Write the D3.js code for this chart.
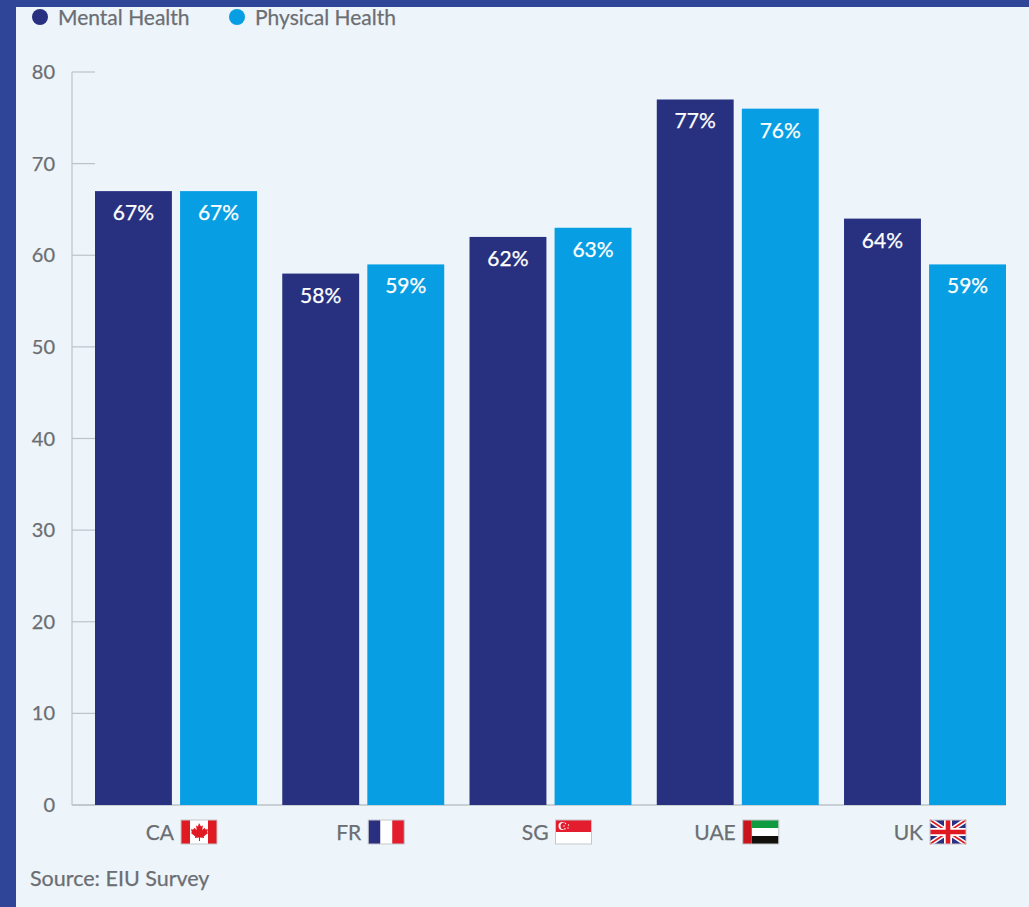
<!DOCTYPE html>
<html>
<head>
<meta charset="utf-8">
<script src="https://cdn.jsdelivr.net/npm/d3@7"></script>
<style>
  html, body { margin: 0; padding: 0; background: #2f4598; }
  svg { display: block; }
  text { font-family: Lato, "Open Sans", sans-serif; }
  .soft { stroke: currentColor; stroke-width: 0.25px; }
</style>
</head>
<body>
<div id="chart"></div>
<script>
const categories = ['CA', 'FR', 'SG', 'UAE', 'UK'];
const seriesNames = ['Mental Health', 'Physical Health'];
const mentalHealth = [67, 58, 62, 77, 64];
const physicalHealth = [67, 59, 63, 76, 59];
const yTicks = [0, 10, 20, 30, 40, 50, 60, 70, 80];
const source = 'Source: EIU Survey';

const colors = ['#283180', '#079ee3'];
const grey = '#6b6e72';
const axisGrey = '#bcc3c9';

const width = 1029, height = 907;

const svg = d3.select('#chart').append('svg')
  .attr('width', width)
  .attr('height', height);

// page frame and panel
svg.append('rect').attr('width', width).attr('height', height).attr('fill', '#2f4598');
svg.append('rect')
  .attr('x', 16).attr('y', 7)
  .attr('width', width - 16).attr('height', height - 7)
  .attr('fill', '#eef5fa');

const x0 = d3.scaleBand().domain(categories).range([95, 1006]).paddingInner(0.135).paddingOuter(0);
const x1 = d3.scaleBand().domain(seriesNames).range([0, x0.bandwidth()]).paddingInner(0.096).paddingOuter(0);
const y = d3.scaleLinear().domain([0, 80]).range([805, 72]);

// y axis: ticks run right from the domain line, labels sit left of it
const yAxis = svg.append('g').attr('transform', 'translate(72,0)');
yAxis.append('line')
  .attr('y1', y(80)).attr('y2', y(0))
  .attr('stroke', axisGrey).attr('stroke-width', 1.2);
const tick = yAxis.selectAll('g.tick').data(yTicks).join('g')
  .attr('class', 'tick')
  .attr('transform', d => 'translate(0,' + y(d) + ')');
tick.append('line')
  .attr('x2', 23)
  .attr('stroke', axisGrey).attr('stroke-width', 1.2);
tick.append('text')
  .attr('class', 'soft')
  .attr('x', -17).attr('dy', '0.35em')
  .attr('text-anchor', 'end')
  .attr('font-size', 20)
  .style('color', grey)
  .attr('fill', grey)
  .text(d => d);

// baseline
svg.append('line')
  .attr('x1', 72).attr('x2', 1006)
  .attr('y1', y(0)).attr('y2', y(0))
  .attr('stroke', axisGrey).attr('stroke-width', 1.4);

// bars
const rows = categories.map((c, i) => ({ c: c, values: [mentalHealth[i], physicalHealth[i]] }));
const group = svg.selectAll('g.group').data(rows).join('g')
  .attr('class', 'group')
  .attr('transform', d => 'translate(' + x0(d.c) + ',0)');
const bar = group.selectAll('g.bar')
  .data(d => d.values.map((v, i) => ({ name: seriesNames[i], v: v, i: i })))
  .join('g').attr('class', 'bar');
bar.append('rect')
  .attr('x', d => x1(d.name))
  .attr('y', d => y(d.v))
  .attr('width', x1.bandwidth())
  .attr('height', d => y(0) - y(d.v))
  .attr('fill', d => colors[d.i]);
bar.append('text')
  .attr('class', 'soft')
  .attr('x', d => x1(d.name) + x1.bandwidth() / 2)
  .attr('y', d => y(d.v) + 29)
  .attr('text-anchor', 'middle')
  .attr('font-size', 21)
  .style('color', '#fff')
  .attr('fill', '#fff')
  .text(d => d.v + '%');

// legend
const legendX = [40, 237];
const legend = svg.selectAll('g.legend').data(seriesNames).join('g')
  .attr('class', 'legend')
  .attr('transform', (d, i) => 'translate(' + legendX[i] + ',17)');
legend.append('circle').attr('r', 8).attr('fill', (d, i) => colors[i]);
legend.append('text')
  .attr('class', 'soft')
  .attr('x', 18).attr('dy', '0.36em')
  .attr('font-size', 21)
  .style('color', grey)
  .attr('fill', grey)
  .text(d => d);

// flags, each drawn in a 36x24 box
const flagW = 36, flagH = 24;
const flags = {
  CA(g) {
    g.append('rect').attr('width', 9).attr('height', flagH).attr('fill', '#e01a22');
    g.append('rect').attr('x', 27).attr('width', 9).attr('height', flagH).attr('fill', '#e01a22');
    g.append('path')
      .attr('d', 'M18 3 l2 3.5 2-1 -.8 4.5 2.6-2.2 .7 1.8 2.6-.4 -1 3 1 .8 -4.4 3.4 .5 1.6 -4.2-.5 0 3.5 -1 0 0-3.5 -4.2 .5 .5-1.6 -4.4-3.4 1-.8 -1-3 2.6 .4 .7-1.8 2.6 2.2 -.8-4.5 2 1z')
      .attr('fill', '#e01a22');
  },
  FR(g) {
    g.append('rect').attr('width', 12).attr('height', flagH).attr('fill', '#2a2f80');
    g.append('rect').attr('x', 24).attr('width', 12).attr('height', flagH).attr('fill', '#e31c2e');
  },
  SG(g) {
    g.append('rect').attr('width', flagW).attr('height', flagH / 2).attr('fill', '#e31c2e');
    g.append('circle').attr('cx', 7).attr('cy', 6).attr('r', 4).attr('fill', '#fff');
    g.append('circle').attr('cx', 8.6).attr('cy', 6).attr('r', 3.6).attr('fill', '#e31c2e');
    [[10, 3.5], [13, 5], [12.5, 8], [9.5, 8.8], [8.5, 6]].forEach(p => {
      g.append('circle').attr('cx', p[0]).attr('cy', p[1]).attr('r', 0.7).attr('fill', '#fff');
    });
  },
  UAE(g) {
    g.append('rect').attr('x', 9).attr('width', 27).attr('height', flagH / 3).attr('fill', '#0f9b3f');
    g.append('rect').attr('x', 9).attr('y', flagH * 2 / 3).attr('width', 27).attr('height', flagH / 3).attr('fill', '#14110d');
    g.append('rect').attr('width', 9).attr('height', flagH).attr('fill', '#c8141a');
  },
  UK(g) {
    g.append('rect').attr('width', flagW).attr('height', flagH).attr('fill', '#2a2f80');
    const diag = 'M0 0L36 24M36 0L0 24';
    g.append('path').attr('d', diag).attr('stroke', '#fff').attr('stroke-width', 5);
    g.append('path').attr('d', diag).attr('stroke', '#e01a22').attr('stroke-width', 1.6);
    const cross = 'M18 0V24M0 12H36';
    g.append('path').attr('d', cross).attr('stroke', '#fff').attr('stroke-width', 8);
    g.append('path').attr('d', cross).attr('stroke', '#e01a22').attr('stroke-width', 4.6);
  }
};

// category labels with flag beside them
const flagGap = 5;
const cat = svg.selectAll('g.cat').data(categories).join('g')
  .attr('class', 'cat')
  .attr('transform', d => 'translate(' + (x0(d) + x0.bandwidth() / 2) + ',832)');
cat.append('text')
  .attr('class', 'soft')
  .attr('x', -2).attr('dy', '0.36em')
  .attr('text-anchor', 'end')
  .attr('font-size', 21)
  .style('color', grey)
  .attr('fill', grey)
  .text(d => d);
cat.each(function (d) {
  const flag = d3.select(this).append('g')
    .attr('transform', 'translate(' + flagGap + ',' + (-flagH / 2) + ')');
  flag.append('rect').attr('width', flagW).attr('height', flagH).attr('fill', '#fff');
  flags[d](flag);
  flag.append('rect')
    .attr('width', flagW).attr('height', flagH)
    .attr('fill', 'none')
    .attr('stroke', '#c3c7cb').attr('stroke-width', 1);
});

// source
svg.append('text')
  .attr('class', 'soft')
  .attr('x', 30).attr('y', 886)
  .attr('font-size', 21.5)
  .style('color', grey)
  .attr('fill', grey)
  .text(source);
</script>
</body>
</html>
